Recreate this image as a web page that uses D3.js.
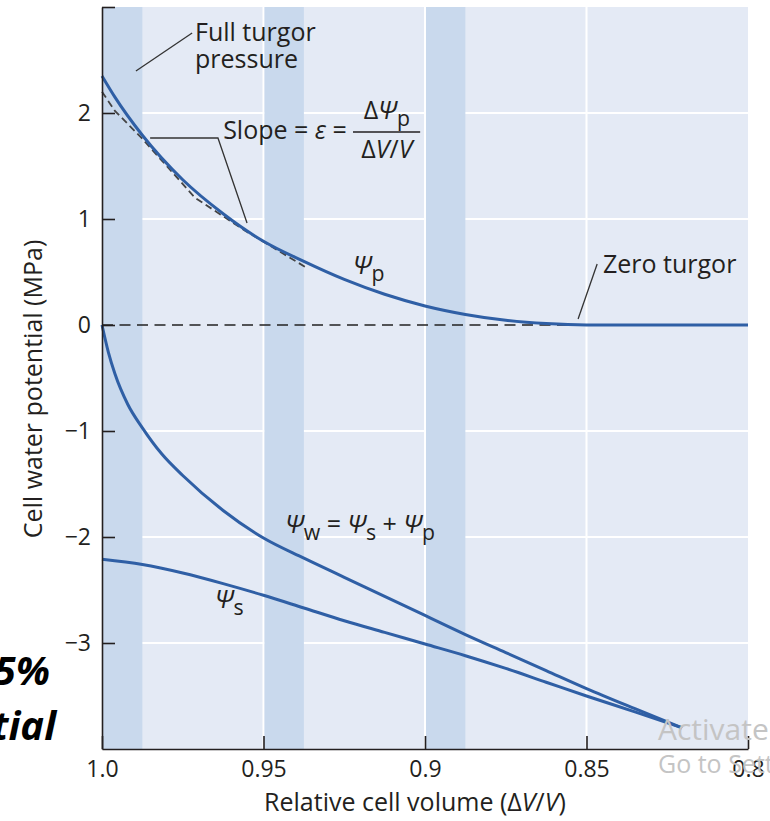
<!DOCTYPE html>
<html>
<head>
<meta charset="utf-8">
<script src="https://cdn.jsdelivr.net/npm/d3@7"></script>
<style>
body { margin: 0; background: #fff; }
text { font-family: "Open Sans", sans-serif; fill: #231f20; }
</style>
</head>
<body>
<div id="chart"></div>
<script>
// pressure potential (psi p) against relative cell volume
var volP = [1.0, 0.996, 0.9875, 0.975, 0.9625, 0.95, 0.9375, 0.925, 0.9125, 0.9, 0.8875, 0.875, 0.8625, 0.85, 0.8];
var psiP = [2.35, 2.15, 1.79, 1.37, 1.05, 0.79, 0.60, 0.43, 0.29, 0.18, 0.10, 0.045, 0.013, 0.0, 0.0];

// water potential (psi w)
var volW = [1.0, 0.998, 0.996, 0.992, 0.9875, 0.9814, 0.975, 0.9625, 0.95, 0.9375, 0.925, 0.9125, 0.9, 0.8875, 0.875, 0.8625, 0.85, 0.835, 0.8204];
var psiW = [0.0, -0.26, -0.46, -0.75, -0.97, -1.22, -1.42, -1.75, -2.01, -2.20, -2.38, -2.56, -2.74, -2.92, -3.09, -3.26, -3.43, -3.62, -3.80];

// solute potential (psi s)
var volS = [1.0, 0.9875, 0.975, 0.9625, 0.95, 0.9375, 0.925, 0.9125, 0.9, 0.8875, 0.875, 0.8625, 0.85, 0.835, 0.8204];
var psiS = [-2.21, -2.26, -2.34, -2.44, -2.55, -2.67, -2.79, -2.90, -3.01, -3.12, -3.24, -3.37, -3.50, -3.65, -3.80];

// dashed chords (slope = elastic modulus)
var volChord = [1.0, 0.996, 0.9876, 0.9712, 0.9557, 0.9372];
var psiChord = [2.2, 2.02, 1.76, 1.20, 0.89, 0.55];

// shaded bands
var bandStart = [1.0, 0.95, 0.9];
var bandEnd = [0.9875, 0.9375, 0.8875];

var xTicks = [1.0, 0.95, 0.9, 0.85, 0.8];
var xTickLabels = ["1.0", "0.95", "0.9", "0.85", "0.8"];
var yTicks = [-3, -2, -1, 0, 1, 2, 3];
var yTickLabels = ["\u22123", "\u22122", "\u22121", "0", "1", "2", ""];
var xGrid = [0.95, 0.9, 0.85];
var yGrid = [-3, -2, -1, 1, 2];

var W = 770, H = 821;
var margin = {top: 7, right: 22, bottom: 72, left: 102};

var svg = d3.select("#chart").append("svg")
    .attr("width", W)
    .attr("height", H);

var x = d3.scaleLinear().domain([1.0, 0.8]).range([margin.left, W - margin.right]);
var y = d3.scaleLinear().domain([-4, 3]).range([H - margin.bottom, margin.top]);

var blue = "#2f5fa5";

// plot background
svg.append("rect")
    .attr("x", x(1.0)).attr("y", y(3))
    .attr("width", x(0.8) - x(1.0))
    .attr("height", y(-4) - y(3))
    .attr("fill", "#e4eaf5");

// white grid
svg.selectAll(".gy").data(yGrid).enter().append("line")
    .attr("x1", x(1.0)).attr("x2", x(0.8))
    .attr("y1", function(d) { return y(d); })
    .attr("y2", function(d) { return y(d); })
    .attr("stroke", "#fff").attr("stroke-width", 2);

svg.selectAll(".gx").data(xGrid).enter().append("line")
    .attr("x1", function(d) { return x(d); })
    .attr("x2", function(d) { return x(d); })
    .attr("y1", y(3)).attr("y2", y(-4))
    .attr("stroke", "#fff").attr("stroke-width", 2);

// bands
svg.selectAll(".band").data(bandStart).enter().append("rect")
    .attr("x", function(d) { return x(d) + 1; })
    .attr("y", y(3))
    .attr("width", function(d, i) { return x(bandEnd[i]) - x(d) - 1; })
    .attr("height", y(-4) - y(3))
    .attr("fill", "#c9d9ed");

// zero line
svg.append("line")
    .attr("x1", x(1.0)).attr("x2", x(0.8))
    .attr("y1", y(0)).attr("y2", y(0))
    .attr("stroke", "#222").attr("stroke-width", 1.6)
    .attr("stroke-dasharray", "11,6.5");

var line = d3.line()
    .x(function(d) { return x(d[0]); })
    .y(function(d) { return y(d[1]); })
    .curve(d3.curveMonotoneX);

function pairs(a, b) { return a.map(function(v, i) { return [v, b[i]]; }); }

// chords
svg.append("path")
    .datum(pairs(volChord, psiChord))
    .attr("d", d3.line().x(function(d) { return x(d[0]); }).y(function(d) { return y(d[1]); }))
    .attr("fill", "none")
    .attr("stroke", "#444")
    .attr("stroke-width", 1.8)
    .attr("stroke-dasharray", "7,4");

[[volP, psiP], [volW, psiW], [volS, psiS]].forEach(function(s) {
    svg.append("path")
        .datum(pairs(s[0], s[1]))
        .attr("d", line)
        .attr("fill", "none")
        .attr("stroke", blue)
        .attr("stroke-width", 3);
});

// axes
var yAxis = svg.append("g")
    .attr("transform", "translate(" + x(1.0) + ",0)")
    .call(d3.axisLeft(y)
        .tickValues(yTicks)
        .tickFormat(function(d, i) { return yTickLabels[i]; })
        .tickSizeInner(-13).tickSizeOuter(0).tickPadding(11));

var xAxis = svg.append("g")
    .attr("transform", "translate(0," + y(-4) + ")")
    .call(d3.axisBottom(x)
        .tickValues(xTicks)
        .tickFormat(function(d, i) { return xTickLabels[i]; })
        .tickSizeInner(-13).tickSizeOuter(0).tickPadding(12));

[yAxis, xAxis].forEach(function(g) {
    g.select(".domain").attr("stroke", "#231f20").attr("stroke-width", 1.6);
    g.selectAll(".tick line").attr("stroke", "#231f20").attr("stroke-width", 1.6);
    g.selectAll(".tick text")
        .style("font-family", "'Open Sans', sans-serif")
        .style("font-size", "23px")
        .attr("fill", "#231f20");
});

// axis titles
svg.append("text")
    .attr("x", x(0.9031)).attr("y", 811)
    .attr("text-anchor", "middle")
    .style("font-size", "25px")
    .html("Relative cell volume (\u0394<tspan font-style='italic'>V</tspan>/<tspan font-style='italic'>V</tspan>)");

svg.append("text")
    .attr("transform", "translate(42," + 389 + ") rotate(-90)")
    .attr("text-anchor", "middle")
    .style("font-size", "25px")
    .text("Cell water potential (MPa)");

// leader lines
var leaders = [
    [[0.9721, 2.755], [0.9895, 2.396]],
    [[0.9851, 1.764], [0.9641, 1.764], [0.9551, 0.962]],
    [[0.8467, 0.575], [0.8526, 0.057]]
];
leaders.forEach(function(l) {
    svg.append("path")
        .datum(l)
        .attr("d", d3.line().x(function(d) { return x(d[0]); }).y(function(d) { return y(d[1]); }))
        .attr("fill", "none")
        .attr("stroke", "#333")
        .attr("stroke-width", 1.3);
});

// annotations
function mathText(vx, vy, parts, size, anchor) {
    var t = svg.append("text")
        .attr("x", x(vx)).attr("y", y(vy))
        .attr("text-anchor", anchor || "start")
        .style("font-size", size + "px");
    var shift = 0;
    parts.forEach(function(p) {
        var s = t.append("tspan").text(p.t);
        var want = p.sub ? size * 0.28 : 0;
        if (want != shift) { s.attr("dy", want - shift); shift = want; }
        if (p.it) s.style("font-style", "italic");
        if (p.sub) s.style("font-size", (size * 0.85) + "px");
    });
    return t;
}

mathText(0.9712, 2.679, [{t: "Full turgor"}], 25);
mathText(0.9712, 2.425, [{t: "pressure"}], 25);
mathText(0.9625, 1.755, [{t: "Slope = "}, {t: "\u03b5", it: true}, {t: " ="}], 25);
mathText(0.9118, 1.943, [{t: "\u0394"}, {t: "\u03a8", it: true}, {t: "p", sub: true}], 25, "middle");
svg.append("line")
    .attr("x1", x(0.9223)).attr("x2", x(0.9015))
    .attr("y1", y(1.821)).attr("y2", y(1.821))
    .attr("stroke", "#231f20").attr("stroke-width", 1.5);
mathText(0.9118, 1.575, [{t: "\u0394"}, {t: "V", it: true}, {t: "/"}, {t: "V", it: true}], 25, "middle");
mathText(0.9223, 0.481, [{t: "\u03a8", it: true}, {t: "p", sub: true}], 25);
mathText(0.8449, 0.491, [{t: "Zero turgor"}], 25);
mathText(0.9433, -1.962, [{t: "\u03a8", it: true}, {t: "w", sub: true}, {t: " = "}, {t: "\u03a8", it: true}, {t: "s", sub: true}, {t: " + "}, {t: "\u03a8", it: true}, {t: "p", sub: true}], 25);
mathText(0.965, -2.67, [{t: "\u03a8", it: true}, {t: "s", sub: true}], 25);

// slide text cut at the left edge
svg.append("text").attr("x", 50).attr("y", 685)
    .attr("text-anchor", "end")
    .style("font-size", "40px").style("font-weight", "bold").style("font-style", "italic")
    .style("fill", "#000").text("25%");
svg.append("text").attr("x", 56).attr("y", 740)
    .attr("text-anchor", "end")
    .style("font-size", "40px").style("font-weight", "bold").style("font-style", "italic")
    .style("fill", "#000").text("potential");

// watermark
svg.append("text").attr("x", 658).attr("y", 740)
    .style("font-size", "30px").style("fill", "#c4c4c4")
    .text("Activate Windows");
svg.append("text").attr("x", 658).attr("y", 773)
    .style("font-size", "25px").style("fill", "#c4c4c4")
    .text("Go to Settings");
</script>
</body>
</html>
